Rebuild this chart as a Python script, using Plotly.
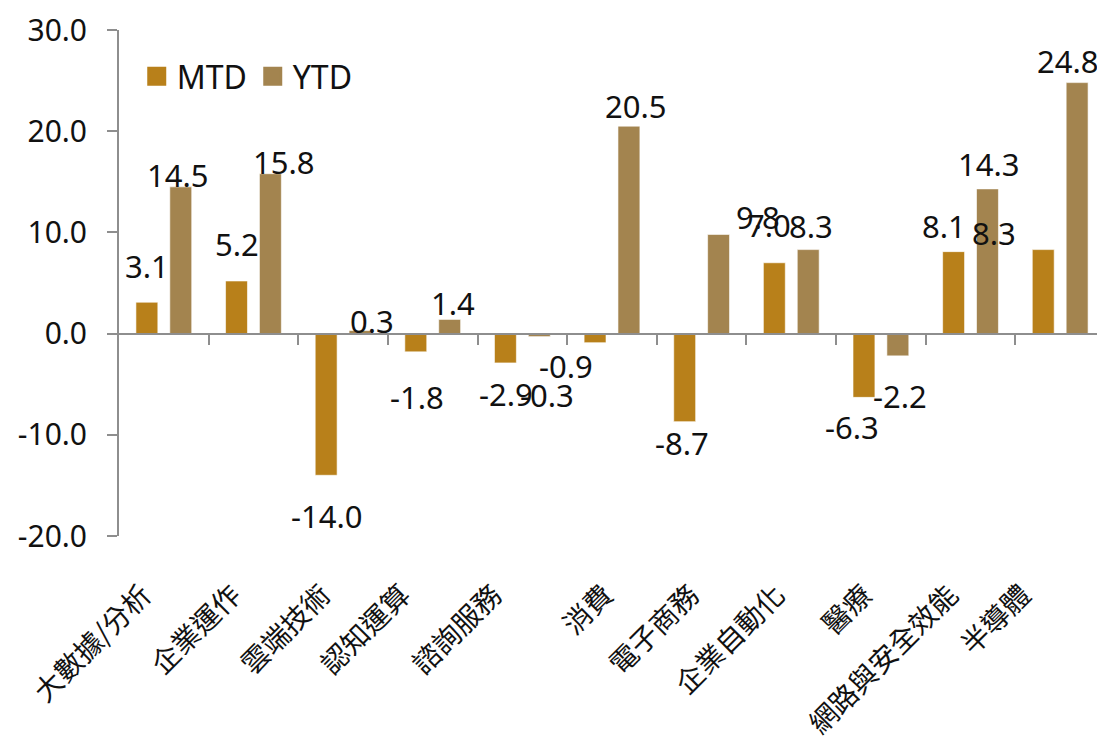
import plotly.graph_objects as go

# ---- data ----
categories = ["大數據/分析", "企業運作", "雲端技術", "認知運算", "諮詢服務", "消費",
              "電子商務", "企業自動化", "醫療", "網路與安全效能", "半導體"]
mtd = [3.1, 5.2, -14.0, -1.8, -2.9, -0.9, -8.7, 7.0, -6.3, 8.1, 8.3]
ytd = [14.5, 15.8, 0.3, 1.4, -0.3, 20.5, 9.8, 8.3, -2.2, 14.3, 24.8]
y_tickvals = [-20, -10, 0, 10, 20, 30]
y_ticktext = ["-20.0", "-10.0", "0.0", "10.0", "20.0", "30.0"]

# ---- styles ----
C_MTD = "#B8801A"
C_YTD = "#A3844F"
AXIS_C = "#8E8E8E"
NUM_FONT = "Noto Sans, Open Sans, sans-serif"
CJK_FONT = "Noto Sans CJK TC, sans-serif"
BAR_OFF = 17          # px offset of each bar from category centre
LABEL_SHIFT = -0.23   # category-label position shift (in category units)
label_dx = [0, 0, 0, -0.11, -0.09, 0.15, 0.11, 0.07, 0.04, 0, -0.19]
# label pixel offsets (dx, dy) relative to bar centre / bar end, as in reference
mtd_off = [(0, 36), (1, 37), (1, -41), (1, -45), (1, -31), (-29, -23),
           (-3, -21), (-5, 38), (-12, -30), (-10, 26), (-49, 17)]
ytd_off = [(-3, 12), (14, 12), (12, 10), (3, 16), (8, -58), (7, 20),
           (39, 17), (3, 24), (2, -40), (1, 25), (-9, 22)]

fig = go.Figure()
fig.add_trace(go.Bar(name="MTD", x=categories, y=mtd,
                     marker=dict(color=C_MTD, line=dict(color="rgba(255,255,255,0.6)", width=1)),
                     showlegend=False, hoverinfo="x+y"))
fig.add_trace(go.Bar(name="YTD", x=categories, y=ytd,
                     marker=dict(color=C_YTD, line=dict(color="rgba(255,255,255,0.6)", width=1)),
                     showlegend=False, hoverinfo="x+y"))
# legend entries (larger square symbols)
for nm, col in [("MTD", C_MTD), ("YTD", C_YTD)]:
    fig.add_trace(go.Scatter(name=nm, x=[None], y=[None], mode="markers",
                             marker=dict(symbol="square", size=16, color=col, line=dict(color=col, width=3)),
                             showlegend=True, hoverinfo="skip"))
# helper traces for the zero-line axis and the category label axis
fig.add_trace(go.Scatter(x=[None], y=[None], xaxis="x2", showlegend=False, hoverinfo="skip"))
fig.add_trace(go.Scatter(x=[None], y=[None], xaxis="x3", showlegend=False, hoverinfo="skip"))

annots = []
for cat, v, (dx, dy) in zip(categories, mtd, mtd_off):
    annots.append(dict(x=cat, y=v, xref="x", yref="y", text=f"{v:.1f}", showarrow=False,
                       xshift=-BAR_OFF + dx, yshift=dy, xanchor="center", yanchor="middle",
                       font=dict(family=NUM_FONT, size=31, color="#111")))
for cat, v, (dx, dy) in zip(categories, ytd, ytd_off):
    annots.append(dict(x=cat, y=v, xref="x", yref="y", text=f"{v:.1f}", showarrow=False,
                       xshift=BAR_OFF + dx, yshift=dy, xanchor="center", yanchor="middle",
                       font=dict(family=NUM_FONT, size=31, color="#111")))

fig.update_layout(
    width=1097, height=738,
    margin=dict(l=111, r=0, t=18, b=210, pad=0),
    paper_bgcolor="white", plot_bgcolor="white",
    barmode="group", bargap=0.244, bargroupgap=0.353,
    annotations=annots,
    legend=dict(orientation="h", x=0.018, y=0.908, xanchor="left", yanchor="middle",
                entrywidth=71, entrywidthmode="pixels",
                font=dict(family=NUM_FONT, size=32, color="#111"), bgcolor="rgba(0,0,0,0)"),
    xaxis=dict(type="category", showline=False, ticks="", showticklabels=False,
               showgrid=False, zeroline=False),
    xaxis2=dict(overlaying="x", anchor="free", position=0.4, type="linear", range=[-0.5, 10.5],
                tickvals=[0.5 + i for i in range(10)], ticks="outside", ticklen=10, tickwidth=2,
                tickcolor=AXIS_C, showline=True, linecolor=AXIS_C, linewidth=2,
                showticklabels=False, showgrid=False, zeroline=False),
    xaxis3=dict(overlaying="x", anchor="free", position=0, type="linear", range=[-0.5, 10.5],
                tickvals=[i + LABEL_SHIFT + d for i, d in enumerate(label_dx)], ticktext=categories,
                tickangle=-45, ticks="", showline=False, showgrid=False, zeroline=False,
                tickfont=dict(family=CJK_FONT, size=28, color="#111"), ticklabelstandoff=36),
    yaxis=dict(range=[-20, 30], tickvals=y_tickvals, ticktext=y_ticktext, ticks="outside",
               ticklen=10, tickwidth=2, tickcolor=AXIS_C, showline=True, linecolor=AXIS_C,
               linewidth=2, showgrid=False, zeroline=False, ticklabelstandoff=14,
               ticklabeloverflow="allow",
               tickfont=dict(family=NUM_FONT, size=30, color="#111")),
)

fig.write_html("out.html")
